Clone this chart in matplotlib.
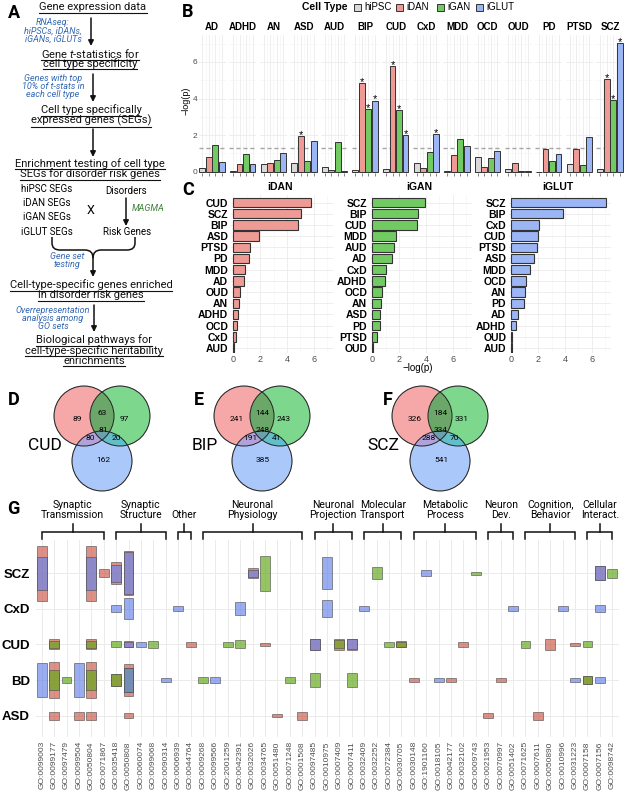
import matplotlib
matplotlib.use("Agg")
import matplotlib.pyplot as plt
import numpy as np
from matplotlib.patches import Rectangle, Circle, PathPatch
from matplotlib.path import Path

plt.rcParams.update({
    'font.family': ['Liberation Sans', 'DejaVu Sans'],
    'mathtext.fontset': 'custom',
    'mathtext.it': 'Roboto:italic',
    'mathtext.rm': 'Roboto',
})

W, H = 624, 796
RB = ['Roboto', 'DejaVu Sans']

# ---------------- data ----------------
CELL_TYPES = ["hiPSC", "iDAN", "iGAN", "iGLUT"]
CELL_COL = {"hiPSC": "#D9D9D9", "iDAN": "#EE9A95", "iGAN": "#72CB62", "iGLUT": "#9BB5F5"}

DISORDERS = ["AD", "ADHD", "AN", "ASD", "AUD", "BIP", "CUD", "CxD", "MDD", "OCD",
             "OUD", "PD", "PTSD", "SCZ"]
HIPSC = [0.18, 0.05, 0.40, 0.49, 0.27, 0.09, 0.15, 0.45, 0.03, 0.82, 0.13, 0.00, 0.42, 0.15]
IDAN = [0.82, 0.40, 0.45, 1.95, 0.09, 4.83, 5.78, 0.22, 0.91, 0.27, 0.49, 1.22, 1.24, 5.07]
IGAN = [1.46, 0.95, 0.64, 0.60, 1.64, 3.40, 3.37, 1.06, 1.78, 0.73, 0.05, 0.57, 0.36, 3.92]
IGLUT = [0.55, 0.40, 1.00, 1.68, 0.04, 3.88, 1.99, 2.06, 1.42, 1.13, 0.06, 0.97, 1.91, 7.02]
NEGLOGP = {"hiPSC": HIPSC, "iDAN": IDAN, "iGAN": IGAN, "iGLUT": IGLUT}
STARRED = [("ASD", "iDAN"), ("BIP", "iDAN"), ("BIP", "iGAN"), ("BIP", "iGLUT"),
           ("CUD", "iDAN"), ("CUD", "iGAN"), ("CUD", "iGLUT"), ("CxD", "iGLUT"),
           ("SCZ", "iDAN"), ("SCZ", "iGAN"), ("SCZ", "iGLUT")]
P_THRESH = 1.3

# venn regions: iDAN, iDAN&iGAN, iGAN, all, iDAN&iGLUT, iGAN&iGLUT, iGLUT
VENN_NAMES = ["CUD", "BIP", "SCZ"]
VENN_CUD = [89, 63, 97, 81, 80, 20, 162]
VENN_BIP = [241, 144, 243, 248, 191, 41, 385]
VENN_SCZ = [326, 184, 331, 334, 288, 70, 541]

GO_TERMS = ["GO:0099003", "GO:0099177", "GO:0097479", "GO:0099504", "GO:0050804",
            "GO:0071867", "GO:0035418", "GO:0050808", "GO:0060074", "GO:0099068",
            "GO:0090314", "GO:0006939", "GO:0044764", "GO:0009268", "GO:0099566",
            "GO:2001259", "GO:0042391", "GO:0032026", "GO:0034765", "GO:0051480",
            "GO:0071248", "GO:0001508", "GO:0097485", "GO:0010975", "GO:0007409",
            "GO:0007411", "GO:0032409", "GO:0032252", "GO:0072384", "GO:0030705",
            "GO:0030148", "GO:1901160", "GO:0018105", "GO:0042177", "GO:0032102",
            "GO:0009743", "GO:0021953", "GO:0070997", "GO:0051402", "GO:0071625",
            "GO:0007611", "GO:0050890", "GO:0010996", "GO:0031223", "GO:0007158",
            "GO:0007156", "GO:0098742"]
GO_GROUPS = ["Synaptic\nTransmission", "Synaptic\nStructure", "Other", "Neuronal\nPhysiology",
             "Neuronal\nProjection", "Molecular\nTransport", "Metabolic\nProcess",
             "Neuron\nDev.", "Cognition,\nBehavior", "Cellular\nInteract."]
GO_GROUP_SIZES = [6, 5, 2, 9, 4, 4, 6, 3, 5, 3]
G_ROWS = ["SCZ", "CxD", "CUD", "BD", "ASD"]

TILES = [
    ("GO:0099003", "SCZ", "iDAN", 1.55), ("GO:0099003", "SCZ", "iGLUT", 0.93),
    ("GO:0050804", "SCZ", "iDAN", 1.55), ("GO:0050804", "SCZ", "iGLUT", 0.93),
    ("GO:0071867", "SCZ", "iDAN", 0.23),
    ("GO:0035418", "SCZ", "iDAN", 0.60), ("GO:0035418", "SCZ", "iGLUT", 0.47),
    ("GO:0050808", "SCZ", "iDAN", 1.22), ("GO:0050808", "SCZ", "iGLUT", 1.16),
    ("GO:0032026", "SCZ", "iDAN", 0.29), ("GO:0032026", "SCZ", "iGLUT", 0.19),
    ("GO:0034765", "SCZ", "iGAN", 0.98),
    ("GO:0010975", "SCZ", "iGLUT", 0.88),
    ("GO:0032252", "SCZ", "iGAN", 0.33),
    ("GO:1901160", "SCZ", "iGLUT", 0.18),
    ("GO:0009743", "SCZ", "iGAN", 0.08),
    ("GO:0007156", "SCZ", "iDAN", 0.40), ("GO:0007156", "SCZ", "iGLUT", 0.40),
    ("GO:0098742", "SCZ", "iGAN", 0.25),
    ("GO:0035418", "CxD", "iGLUT", 0.19),
    ("GO:0050808", "CxD", "iGLUT", 0.58),
    ("GO:0006939", "CxD", "iGLUT", 0.13),
    ("GO:0042391", "CxD", "iGLUT", 0.37),
    ("GO:0010975", "CxD", "iGLUT", 0.47),
    ("GO:0032409", "CxD", "iGLUT", 0.13),
    ("GO:0051402", "CxD", "iGLUT", 0.15),
    ("GO:0010996", "CxD", "iGLUT", 0.13),
    ("GO:0007156", "CxD", "iGLUT", 0.19),
    ("GO:0099177", "CUD", "iDAN", 0.28), ("GO:0099177", "CUD", "iGAN", 0.19),
    ("GO:0050804", "CUD", "iDAN", 0.28), ("GO:0050804", "CUD", "iGAN", 0.19),
    ("GO:0035418", "CUD", "iGAN", 0.17),
    ("GO:0050808", "CUD", "iDAN", 0.17), ("GO:0050808", "CUD", "iGLUT", 0.15),
    ("GO:0060074", "CUD", "iGLUT", 0.12),
    ("GO:0099068", "CUD", "iGAN", 0.19),
    ("GO:0044764", "CUD", "iDAN", 0.12),
    ("GO:2001259", "CUD", "iGAN", 0.12),
    ("GO:0042391", "CUD", "iGAN", 0.22),
    ("GO:0034765", "CUD", "iDAN", 0.09),
    ("GO:0097485", "CUD", "iDAN", 0.30), ("GO:0097485", "CUD", "iGLUT", 0.30),
    ("GO:0007409", "CUD", "iDAN", 0.30), ("GO:0007409", "CUD", "iGAN", 0.22),
    ("GO:0007411", "CUD", "iDAN", 0.30), ("GO:0007411", "CUD", "iGLUT", 0.28),
    ("GO:0072384", "CUD", "iGAN", 0.14),
    ("GO:0030705", "CUD", "iDAN", 0.17), ("GO:0030705", "CUD", "iGAN", 0.15),
    ("GO:0032102", "CUD", "iDAN", 0.12),
    ("GO:0071625", "CUD", "iGAN", 0.20),
    ("GO:0050890", "CUD", "iDAN", 0.30),
    ("GO:0031223", "CUD", "iDAN", 0.09),
    ("GO:0007158", "CUD", "iGAN", 0.17),
    ("GO:0099003", "BD", "iGLUT", 0.98),
    ("GO:0099177", "BD", "iDAN", 1.01), ("GO:0099177", "BD", "iGAN", 0.56),
    ("GO:0097479", "BD", "iGAN", 0.18),
    ("GO:0099504", "BD", "iGLUT", 0.98),
    ("GO:0050804", "BD", "iDAN", 1.01), ("GO:0050804", "BD", "iGAN", 0.56),
    ("GO:0035418", "BD", "iDAN", 0.36), ("GO:0035418", "BD", "iGAN", 0.36),
    ("GO:0050808", "BD", "iDAN", 0.90), ("GO:0050808", "BD", "iGAN", 0.65),
    ("GO:0050808", "BD", "iGLUT", 0.65),
    ("GO:0090314", "BD", "iGLUT", 0.10),
    ("GO:0009268", "BD", "iGAN", 0.18),
    ("GO:0099566", "BD", "iGLUT", 0.18),
    ("GO:0071248", "BD", "iGAN", 0.18),
    ("GO:0097485", "BD", "iGAN", 0.42),
    ("GO:0007411", "BD", "iGAN", 0.42),
    ("GO:0030148", "BD", "iDAN", 0.10),
    ("GO:0018105", "BD", "iGLUT", 0.10),
    ("GO:0042177", "BD", "iDAN", 0.10),
    ("GO:0070997", "BD", "iDAN", 0.14),
    ("GO:0031223", "BD", "iGLUT", 0.10),
    ("GO:0007158", "BD", "iDAN", 0.23), ("GO:0007158", "BD", "iGAN", 0.23),
    ("GO:0007156", "BD", "iGLUT", 0.18),
    ("GO:0099177", "ASD", "iDAN", 0.23),
    ("GO:0099504", "ASD", "iDAN", 0.23),
    ("GO:0050804", "ASD", "iDAN", 0.23),
    ("GO:0050808", "ASD", "iDAN", 0.14),
    ("GO:0051480", "ASD", "iDAN", 0.10),
    ("GO:0001508", "ASD", "iDAN", 0.23),
    ("GO:0021953", "ASD", "iDAN", 0.15),
    ("GO:0007611", "ASD", "iDAN", 0.23),
]
TILE_COL = {"iDAN": "#CD5B4C", "iGAN": "#62A91B", "iGLUT": "#6986EA"}


def box(x0, y0, x1, y1):
    return [x0 / W, 1 - y1 / H, (x1 - x0) / W, (y1 - y0) / H]


fig = plt.figure(figsize=(W / 100, H / 100), dpi=100)
ov = fig.add_axes([0, 0, 1, 1])
ov.set_xlim(0, W)
ov.set_ylim(H, 0)
ov.axis('off')
ov.set_autoscale_on(False)

# ---------------- panel letters ----------------
for lab, x, y in [("A", 8, 13), ("B", 182, 12), ("C", 182, 190), ("D", 8, 400),
                  ("E", 194, 400), ("F", 383, 400), ("G", 7, 509)]:
    ov.text(x, y, lab, fontsize=13, fontweight='bold', family=RB, ha='left', va='center')

# ---------------- panel A: workflow ----------------
NOTE_BLUE = "#3468B2"
heads = []


def head(x, y, s):
    heads.append(ov.text(x, y, s, ha='center', va='center', fontsize=8, family=RB, color='#111111'))


def note(x, y, s, color=NOTE_BLUE):
    ov.text(x, y, s, ha='center', va='center', fontsize=6.5, style='italic', family=RB,
            color=color, linespacing=0.9)


def arrow(x, y0, y1):
    ov.annotate('', xy=(x, y1), xytext=(x, y0),
                arrowprops=dict(arrowstyle='-|>', color='#111111', lw=1.1,
                                mutation_scale=8, shrinkA=0, shrinkB=0))


head(93, 7.5, "Gene expression data")
head(90, 53, r"Gene $\it{t}$-statistics for")
head(90, 63.5, "cell type specificity")
head(91, 110, "Cell type specifically")
head(91, 120.5, "expressed genes (SEGs)")
head(90, 163.5, "Enrichment testing of cell type")
head(90, 174, "SEGs for disorder risk genes")
head(91, 285, "Cell-type-specific genes enriched")
head(91, 295.5, "in disorder risk genes")
head(94, 340, "Biological pathways for")
head(94, 350.5, "cell-type-specific heritability")
head(94, 361, "enrichments")

note(53, 31, "RNAseq:\nhiPSCs, iDANs,\niGANs, iGLUTs")
note(53, 86.5, "Genes with top\n10% of t-stats in\neach cell type")
note(67, 260.5, "Gene set\ntesting")
note(53, 318.5, "Overrepresentation\nanalysis among\nGO sets")
note(148, 208.5, "MAGMA", color="#3F7F3A")

arrow(91, 18, 46)
arrow(93, 74, 102)
arrow(93, 129, 157)
arrow(126, 198, 226)
arrow(94, 305, 332)

for s, y in zip(["hiPSC SEGs", "iDAN SEGs", "iGAN SEGs", "iGLUT SEGs"], [189, 203, 217, 232]):
    ov.text(47, y, s, ha='center', va='center', fontsize=7, family=RB)
ov.text(126, 191, "Disorders", ha='center', va='center', fontsize=7, family=RB)
ov.text(127, 232, "Risk Genes", ha='center', va='center', fontsize=7, family=RB)
ov.text(91, 210, "X", ha='center', va='center', fontsize=9, family=RB)

for sx in (52, 135):
    sgn = 1 if sx < 93 else -1
    verts = [(sx, 237), (sx, 243), (sx, 250), (sx + sgn * 8, 250), (93 - sgn * 8, 250),
             (93, 250), (93, 258)]
    codes = [Path.MOVETO, Path.LINETO, Path.CURVE3, Path.CURVE3, Path.LINETO,
             Path.CURVE3, Path.CURVE3]
    ov.add_patch(PathPatch(Path(verts, codes), fill=False, lw=1.1, ec='#111111'))
arrow(93, 257, 277)

# ---------------- panel B: faceted bars ----------------
fx0, fstep, fw = 198.5, 30.6, 27.3
for i, d in enumerate(DISORDERS):
    left = fx0 + i * fstep
    ax = fig.add_axes(box(left, 35, left + fw, 173))
    xs = np.arange(1, 5)
    vals = [NEGLOGP[c][i] for c in CELL_TYPES]
    ax.bar(xs, vals, width=0.9, color=[CELL_COL[c] for c in CELL_TYPES],
           edgecolor='#333333', linewidth=0.7, zorder=3)
    for x, c, v in zip(xs, CELL_TYPES, vals):
        if (d, c) in STARRED:
            ax.text(x, v - 0.1, '*', ha='center', va='baseline', fontsize=8, zorder=4)
    ax.axhline(P_THRESH, color='#A6A6A6', ls=(0, (3, 2)), lw=1.0, zorder=2)
    ax.set_xlim(0.4, 4.6)
    ax.set_ylim(-0.07, 7.47)
    ax.set_yticks([0, 2, 4, 6])
    ax.set_yticks([1, 3, 5, 7], minor=True)
    ax.set_xticks(xs)
    ax.set_xticks([1.5, 2.5, 3.5], minor=True)
    ax.grid(which='major', color='#EBEBEB', lw=0.6, zorder=0)
    ax.grid(which='minor', color='#F3F3F3', lw=0.4, zorder=0)
    for sp in ax.spines.values():
        sp.set_visible(False)
    ax.tick_params(axis='x', which='major', length=2, width=0.5, color='#555555', labelbottom=False)
    ax.tick_params(which='minor', length=0)
    if i == 0:
        ax.tick_params(axis='y', which='major', length=0, pad=1, labelsize=6, labelcolor='#4D4D4D')
    else:
        ax.tick_params(axis='y', which='major', length=0, labelleft=False)
    ov.text(left + fw / 2, 27, d, ha='center', va='center', fontsize=7, fontweight='bold')
ov.text(186, 101, "\u2212log(p)", rotation=90, ha='center', va='center', fontsize=6.5)

# legend
ov.text(325, 7, "Cell Type", ha='center', va='center', fontsize=7.5, fontweight='bold')
for c, bx in zip(CELL_TYPES, [354, 396, 437, 476]):
    ov.add_patch(Rectangle((bx, 3.5), 6.5, 7, fc=CELL_COL[c], ec='#333333', lw=0.7))
    ov.text(bx + 10, 7, c, ha='left', va='center', fontsize=7)

# ---------------- panel C: ranked bars ----------------
for c, zx in zip(["iDAN", "iGAN", "iGLUT"], [233, 372, 511]):
    ax = fig.add_axes(box(zx - 2, 195, zx + 100, 353))
    order = sorted(range(len(DISORDERS)), key=lambda j: -NEGLOGP[c][j])
    ys = np.arange(len(order))[::-1]
    ax.barh(ys, [NEGLOGP[c][j] for j in order], height=0.85, color=CELL_COL[c],
            edgecolor='#333333', linewidth=0.8, zorder=3)
    ax.set_yticks(ys)
    ax.set_yticklabels([DISORDERS[j] for j in order], fontweight='bold', fontsize=7.5)
    ax.set_xlim(-0.15, 7.41)
    ax.set_ylim(-0.44, 13.67)
    ax.set_xticks([0, 2, 4, 6])
    ax.set_xticks([1, 3, 5, 7], minor=True)
    ax.grid(which='major', color='#EBEBEB', lw=0.6, zorder=0)
    ax.grid(which='minor', axis='x', color='#F3F3F3', lw=0.4, zorder=0)
    for sp in ax.spines.values():
        sp.set_visible(False)
    ax.tick_params(axis='y', length=0, pad=2)
    ax.tick_params(axis='x', which='both', length=0, pad=1.5, labelsize=6.5, labelcolor='#4D4D4D')
    ov.text(zx + 47, 187, c, ha='center', va='center', fontsize=7.5, fontweight='bold')
ov.text(418, 368, "\u2212log(p)", ha='center', va='center', fontsize=7)

# ---------------- panels D-F: venn diagrams ----------------
REGION_RGB = {
    (1, 0, 0): (246, 168, 168), (0, 1, 0): (125, 215, 140), (0, 0, 1): (170, 200, 250),
    (1, 1, 0): (108, 168, 104), (1, 0, 1): (178, 162, 218), (0, 1, 1): (98, 190, 200),
    (1, 1, 1): (108, 160, 172),
}
LABEL_OFF = [(-25, 3), (0, -3), (22, 3), (1, 14), (-11.5, 22.5), (14, 22.5), (1, 44)]
R = 30
for name, counts, ox in zip(VENN_NAMES, [VENN_CUD, VENN_BIP, VENN_SCZ], [102, 262, 440]):
    oy = 416
    cents = [(ox - 18, oy), (ox + 18, oy), (ox, oy + 45)]
    x0, x1, y0, y1 = ox - 50, ox + 50, oy - 32, oy + 77
    gxs = np.linspace(x0, x1, 400)
    gys = np.linspace(y0, y1, 436)
    XX, YY = np.meshgrid(gxs, gys)
    masks = [((XX - cx) ** 2 + (YY - cy) ** 2) <= R ** 2 for cx, cy in cents]
    img = np.zeros(XX.shape + (4,))
    for key, rgb in REGION_RGB.items():
        m = np.ones(XX.shape, bool)
        for k, v in zip(masks, key):
            m &= k if v else ~k
        img[m] = [rgb[0] / 255, rgb[1] / 255, rgb[2] / 255, 1]
    ov.imshow(img, extent=(x0, x1, y1, y0), aspect='auto', interpolation='bilinear', zorder=1)
    for cx, cy in cents:
        ov.add_patch(Circle((cx, cy), R, fill=False, ec='#222222', lw=0.7, zorder=2))
    for n, (dx, dy) in zip(counts, LABEL_OFF):
        ov.text(ox + dx, oy + dy, str(n), ha='center', va='center', fontsize=6, family=RB, zorder=3)
    ov.text(ox - 57, 445, name, ha='center', va='center', fontsize=12.5, family=RB, zorder=3)
ov.set_xlim(0, W)
ov.set_ylim(H, 0)

# ---------------- panel G: GO tile plot ----------------
gx = fig.add_axes(box(35.5, 540, 618.5, 737))
nx = len(GO_TERMS)
gx.set_xlim(-0.5, nx - 0.5)
gx.set_ylim(-0.6, 4.93)
row_y = {r: len(G_ROWS) - 1 - k for k, r in enumerate(G_ROWS)}
cells = {}
for go, dis, ct, h in TILES:
    cells.setdefault((go, dis), []).append((h, ct))
for (go, dis), items in cells.items():
    xi = GO_TERMS.index(go)
    yi = row_y[dis]
    for h, ct in sorted(items, key=lambda t: -t[0]):
        gx.add_patch(Rectangle((xi - 0.4, yi - h / 2), 0.8, h,
                               facecolor=matplotlib.colors.to_rgba(TILE_COL[ct], 0.68),
                               ec=(0.3, 0.3, 0.3, 0.6), lw=0.7, zorder=3))
gx.set_xticks(range(nx))
gx.set_xticklabels(GO_TERMS, rotation=90, fontsize=6, color='#4D4D4D')
gx.set_yticks(list(row_y.values()))
gx.set_yticklabels(list(row_y.keys()), fontweight='bold', fontsize=9.5)
gx.grid(color='#EBEBEB', lw=0.7, zorder=0)
for sp in gx.spines.values():
    sp.set_visible(False)
gx.tick_params(length=0)
gx.tick_params(axis='y', pad=4)
gx.tick_params(axis='x', pad=3)

hx = fig.add_axes(box(35.5, 495, 618.5, 540))
hx.set_xlim(-0.5, nx - 0.5)
hx.set_ylim(540, 495)
hx.axis('off')
start = 0
for lab, n in zip(GO_GROUPS, GO_GROUP_SIZES):
    s, e = start, start + n - 1
    m = (s + e) / 2
    hx.plot([s, s, e, e], [539, 531.5, 531.5, 539], color='#111111', lw=1.1, solid_joinstyle='miter')
    hx.plot([m, m], [531.5, 524], color='#111111', lw=1.1)
    hx.text(m, 520, lab, ha='center', va='bottom', fontsize=7.5, family=RB, linespacing=0.95)
    start += n

# ---------------- underline the workflow headings ----------------
fig.canvas.draw()
rend = fig.canvas.get_renderer()
for t in heads:
    bb = t.get_window_extent(rend)
    yb = H - bb.y0 + 0.3
    ov.plot([bb.x0, bb.x1], [yb, yb], color='#111111', lw=0.8)

fig.savefig("out.png", dpi=100)
